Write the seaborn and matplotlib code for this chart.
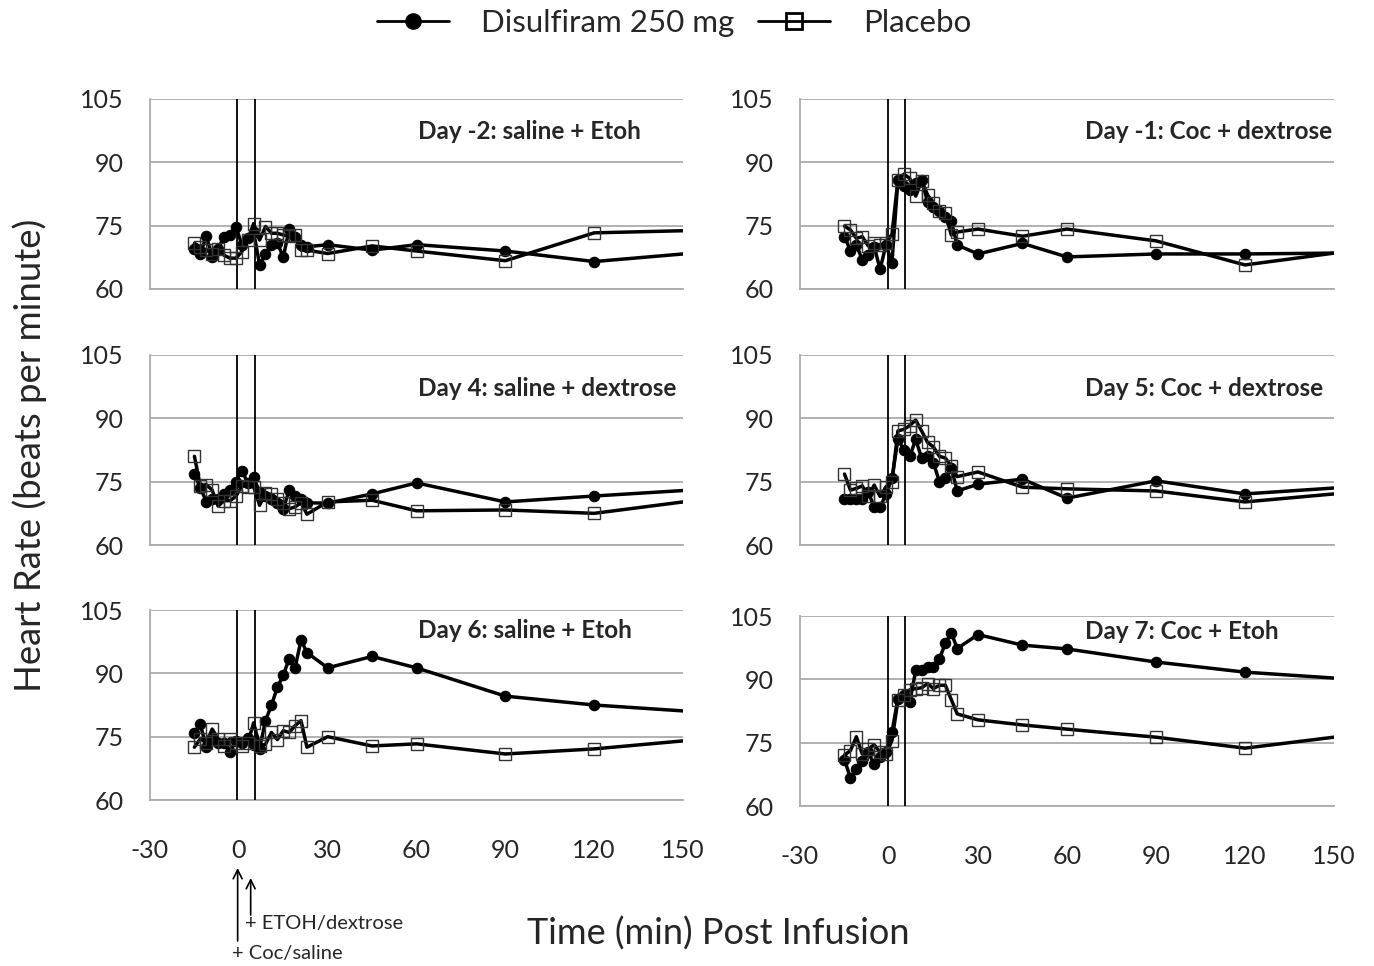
import numpy as np
import pandas as pd
import matplotlib
matplotlib.use("Agg")
import matplotlib.pyplot as plt
import matplotlib.transforms as mtransforms
from matplotlib.lines import Line2D
import seaborn as sns

# Sampling times in minutes relative to the cocaine/saline infusion.
# The last sample (180 min) lies past the right edge of the axis.
times = [-15, -13, -11, -9, -7, -5, -3, -1, 1, 3, 5, 7, 9, 11, 13,
         15, 17, 19, 21, 23, 30, 45, 60, 90, 120, 180]

groups = ["Disulfiram 250 mg", "Placebo"]

panel_titles = [
    "Day -2: saline + Etoh",
    "Day -1: Coc + dextrose",
    "Day 4: saline + dextrose",
    "Day 5: Coc + dextrose",
    "Day 6: saline + Etoh",
    "Day 7: Coc + Etoh",
]

# Mean heart rate (beats per minute) per session
dis_day_m2 = [69.5, 68.2, 72.6, 67.5, 69.5, 72.4, 72.8, 74.8, 70.5, 72.0, 73.5, 65.8, 68.2,
              70.5, 71.0, 67.5, 74.2, 72.2, 70.5, 70.0, 70.5, 69.2, 70.5, 69.0, 66.5, 70.1]
pla_day_m2 = [70.8, 70.0, 69.2, 68.4, 69.5, 68.0, 67.3, 67.3, 68.8, 71.5, 75.5, 71.6, 74.8,
              73.2, 73.2, 72.8, 72.5, 72.8, 69.2, 69.2, 68.4, 70.2, 69.0, 66.7, 73.3, 74.3]

dis_day_m1 = [72.4, 69.1, 70.5, 66.9, 68.1, 70.0, 64.7, 70.5, 66.2, 85.8, 84.5, 83.4, 85.0,
              85.8, 80.7, 79.5, 78.5, 77.1, 76.0, 70.4, 68.3, 70.8, 67.6, 68.3, 68.3, 68.7]
pla_day_m1 = [74.9, 74.0, 72.0, 72.4, 70.2, 70.8, 70.4, 70.8, 73.0, 85.8, 87.2, 86.2, 82.0,
              85.6, 82.3, 80.3, 78.5, 77.9, 72.8, 73.5, 74.2, 72.5, 74.2, 71.4, 65.7, 71.3]

dis_day_4 = [76.7, 73.6, 70.3, 71.0, 71.0, 72.0, 73.0, 75.0, 77.6, 74.8, 76.0, 72.5, 71.5,
             71.0, 70.0, 68.5, 73.0, 71.5, 71.0, 70.0, 69.9, 72.1, 74.7, 70.2, 71.6, 74.2]
pla_day_4 = [81.0, 74.0, 74.3, 73.0, 69.2, 70.5, 70.5, 71.5, 74.0, 73.8, 73.8, 69.4, 72.2,
             72.0, 71.0, 70.0, 68.6, 69.0, 70.0, 67.3, 70.2, 70.6, 68.1, 68.3, 67.5, 72.9]

dis_day_5 = [70.8, 70.8, 70.8, 70.8, 72.5, 69.0, 69.0, 72.0, 75.8, 85.0, 82.6, 81.0, 85.0,
             80.6, 81.0, 79.4, 75.0, 75.8, 78.2, 72.8, 74.4, 75.6, 71.1, 75.2, 72.1, 74.9]
pla_day_5 = [76.8, 73.0, 73.4, 74.0, 71.5, 74.2, 71.5, 73.8, 75.0, 87.0, 87.4, 88.3, 89.6,
             87.0, 84.3, 83.2, 81.0, 80.6, 78.6, 76.2, 77.3, 73.7, 73.3, 72.8, 70.2, 74.0]

dis_day_6 = [75.8, 77.9, 72.5, 74.5, 73.5, 73.5, 71.4, 74.0, 73.5, 74.8, 73.0, 72.1, 78.8,
             82.4, 86.7, 89.5, 93.5, 91.3, 97.9, 94.9, 91.3, 94.0, 91.3, 84.6, 82.5, 79.7]
pla_day_6 = [72.5, 74.5, 73.5, 76.8, 74.5, 72.8, 74.5, 73.5, 72.9, 73.5, 78.3, 72.9, 73.2,
             76.0, 74.3, 76.4, 76.0, 77.6, 78.8, 72.5, 75.0, 72.8, 73.3, 70.9, 72.1, 75.9]

dis_day_7 = [70.9, 66.7, 68.7, 70.7, 72.7, 69.9, 71.5, 72.7, 77.5, 85.4, 86.2, 84.6, 92.1,
             92.3, 92.9, 92.9, 94.9, 98.5, 101.0, 97.3, 100.6, 98.1, 97.2, 94.1, 91.7, 88.9]
pla_day_7 = [72.1, 73.1, 76.4, 72.3, 73.5, 74.5, 72.7, 72.3, 75.5, 85.0, 86.2, 87.5, 87.8,
             88.0, 89.0, 87.8, 88.6, 88.6, 85.2, 81.8, 80.4, 79.2, 78.2, 76.3, 73.7, 78.9]

series = [
    (dis_day_m2, pla_day_m2),
    (dis_day_m1, pla_day_m1),
    (dis_day_4, pla_day_4),
    (dis_day_5, pla_day_5),
    (dis_day_6, pla_day_6),
    (dis_day_7, pla_day_7),
]

xticks = [-30, 0, 30, 60, 90, 120, 150]
yticks = [60, 75, 90, 105]
infusion_marks = [-0.5, 5.5]   # cocaine/saline start, then ETOH/dextrose start

frames = []
for title, (d, p) in zip(panel_titles, series):
    frames.append(pd.DataFrame({"panel": title, "group": groups[0], "time": times, "hr": d}))
    frames.append(pd.DataFrame({"panel": title, "group": groups[1], "time": times, "hr": p}))
df = pd.concat(frames, ignore_index=True)

sns.set_style("white")
plt.rcParams["font.family"] = ["Lato", "DejaVu Sans"]
plt.rcParams["axes.unicode_minus"] = False

W, H = 1374, 966
fig = plt.figure(figsize=(W / 100, H / 100), dpi=100)

col_x = [150 / W, 800 / W]
col_w = [533 / W, 534 / W]
row_bottoms = [[289, 289], [545, 545], [800, 806]]
ax_h = 190 / H

title_pos = [(0.503, 0.83), (0.534, 0.83), (0.503, 0.826),
             (0.534, 0.826), (0.503, 0.89), (0.534, 0.92)]

circle_style = dict(color="black", lw=2.5, marker="o", markersize=7.5,
                    markerfacecolor="black", markeredgecolor="black",
                    markeredgewidth=0.8)
square_style = dict(color="black", lw=2.5, marker="s", markersize=8.5,
                    markerfacecolor="none", markeredgecolor="#333333",
                    markeredgewidth=1.0)

grid_gray = "#ababab"
axes = []
for i, title in enumerate(panel_titles):
    r, c = divmod(i, 2)
    ax = fig.add_axes([col_x[c], 1 - row_bottoms[r][c] / H, col_w[c], ax_h])
    axes.append(ax)
    sub = df[df["panel"] == title]

    sns.lineplot(data=sub[sub["group"] == groups[0]], x="time", y="hr", ax=ax,
                 estimator=None, errorbar=None, sort=False, legend=False,
                 zorder=4, **circle_style)
    sns.lineplot(data=sub[sub["group"] == groups[1]], x="time", y="hr", ax=ax,
                 estimator=None, errorbar=None, sort=False, legend=False,
                 zorder=4, **square_style)

    for xm in infusion_marks:
        ax.axvline(xm, color="black", lw=1.3, zorder=3)

    ax.set_xlim(-30, 150)
    ax.set_ylim(60, 105)
    ax.set_xticks(xticks)
    ax.set_yticks(yticks)
    ax.yaxis.grid(True, color=grid_gray, lw=1.3)
    ax.xaxis.grid(False)
    ax.set_axisbelow(True)
    for side in ["top", "right"]:
        ax.spines[side].set_visible(False)
    for side in ["left", "bottom"]:
        ax.spines[side].set_color(grid_gray)
        ax.spines[side].set_linewidth(1.3)
    ax.tick_params(axis="both", which="both", direction="out", color=grid_gray,
                   width=1.3, length=5, labelsize=18)
    ax.tick_params(axis="y", pad=14)
    ax.tick_params(axis="x", pad=23)
    if r < 2:
        ax.tick_params(axis="x", labelbottom=False)
    ax.set_xlabel("")
    ax.set_ylabel("")
    ax.text(title_pos[i][0], title_pos[i][1], title, transform=ax.transAxes,
            ha="left", va="center", fontsize=17.5, fontweight="bold")

legend_handles = [
    Line2D([], [], color="black", lw=2, marker="o", markersize=11,
           markerfacecolor="black", markeredgecolor="black"),
    Line2D([], [], color="black", lw=2, marker="s", markersize=11,
           markerfacecolor="none", markeredgecolor="black", markeredgewidth=2),
]
fig.legend(legend_handles, groups, loc="center",
           bbox_to_anchor=(0.5 - 13 / W, 1 - 23 / H),
           ncol=2, frameon=False, fontsize=22.5, handlelength=2.3,
           handletextpad=1.05, columnspacing=0.75)

fig.text(30 / W, 1 - 455 / H, "Heart Rate (beats per minute)", rotation=90,
         ha="center", va="center", fontsize=26.3)
fig.text(718 / W, 1 - 934 / H, "Time (min) Post Infusion",
         ha="center", va="center", fontsize=26)

# Arrows under the bottom-left panel marking the two infusion starts
ax5 = axes[4]
blend = mtransforms.blended_transform_factory(ax5.transData, fig.transFigure)
ax5.annotate("", xy=(-0.4, 1 - 868 / H), xytext=(-0.4, 1 - 941 / H),
             xycoords=blend, textcoords=blend, annotation_clip=False,
             arrowprops=dict(arrowstyle="->", color="black", lw=1.2,
                             mutation_scale=16, shrinkA=0, shrinkB=0))
ax5.annotate("", xy=(4.0, 1 - 878 / H), xytext=(4.0, 1 - 915 / H),
             xycoords=blend, textcoords=blend, annotation_clip=False,
             arrowprops=dict(arrowstyle="->", color="black", lw=1.2,
                             mutation_scale=16, shrinkA=0, shrinkB=0))
fig.text(245 / W, 1 - 924 / H, "+ ETOH/dextrose", ha="left", va="center", fontsize=14.5)
fig.text(232 / W, 1 - 953 / H, "+ Coc/saline", ha="left", va="center", fontsize=14.5)

fig.savefig("out.png", dpi=100)
